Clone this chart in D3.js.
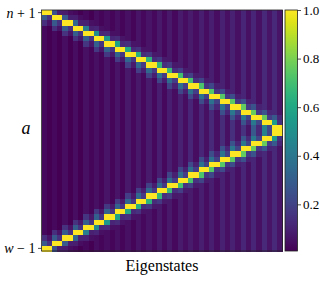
<!DOCTYPE html>
<html>
<head>
<meta charset="utf-8">
<script src="https://cdn.jsdelivr.net/npm/d3@7"></script>
<style>
  body { margin: 0; background: #fff; }
  svg text { font-family: "Liberation Serif", "Times New Roman", serif !important; fill: #000; }
</style>
</head>
<body>
<div id="heatmap"></div>
<script>
// eigenstates come in pairs; pair k peaks at site k (and its mirror site)
var nSites = 46;
var pairs = d3.range(23);
var yTickLabels = [["n", " + 1"], ["w", " \u2212 1"]];
var cbTicks = [0.2, 0.4, 0.6, 0.8, 1.0];

// values read per pair: even / odd column of the pair, by distance from the peak row
var peak    = [1,1,1,1,1,1,1,1,1,1,1,1,1,1,1,1,1,1,1,1,1,1,1];
var leadE   = [0,0.25,0.28,0.33,0.42,0.48,0.53,0.57,0.60,0.63,0.65,0.67,0.68,0.70,0.71,0.72,0.73,0.74,0.75,0.76,0.77,0.77,0.55];
var leadO   = [0,0.09,0.09,0.10,0.10,0.11,0.11,0.12,0.12,0.13,0.13,0.14,0.14,0.15,0.15,0.16,0.16,0.17,0.17,0.18,0.18,0.19,0.15];
var lead2E  = [0,0,0.08,0.09,0.10,0.11,0.12,0.13,0.14,0.15,0.16,0.17,0.18,0.19,0.20,0.21,0.22,0.23,0.24,0.25,0.26,0.27,0.28];
var lead2O  = [0,0,0.04,0.04,0.05,0.05,0.05,0.06,0.06,0.06,0.07,0.07,0.07,0.08,0.08,0.08,0.09,0.09,0.09,0.10,0.10,0.11,0.11];
var outerE  = [0,0,0,0.03,0.03,0.04,0.04,0.05,0.05,0.06,0.06,0.07,0.07,0.08,0.08,0.09,0.09,0.10,0.10,0.11,0.11,0.12,0.12];
var outerO  = [0,0,0,0.01,0.01,0.02,0.02,0.02,0.02,0.03,0.03,0.03,0.03,0.04,0.04,0.04,0.04,0.05,0.05,0.05,0.05,0.06,0.06];
var trailE  = [0.28,0.28,0.29,0.30,0.30,0.31,0.32,0.32,0.33,0.34,0.34,0.35,0.36,0.36,0.37,0.38,0.38,0.39,0.40,0.40,0.41,0.44,1];
var trailO  = [0.15,0.15,0.15,0.16,0.16,0.16,0.17,0.17,0.17,0.18,0.18,0.18,0.19,0.19,0.19,0.20,0.20,0.20,0.21,0.21,0.22,0.22,1];
var trail2E = [0.14,0.14,0.15,0.15,0.16,0.17,0.17,0.18,0.19,0.19,0.20,0.21,0.21,0.22,0.23,0.24,0.24,0.25,0.26,0.27,0.28,0.30,0.30];
var trail2O = [0.06,0.06,0.06,0.07,0.07,0.07,0.08,0.08,0.08,0.09,0.09,0.09,0.10,0.10,0.10,0.10,0.11,0.11,0.11,0.12,0.12,0.12,0.12];
var bgE     = [0.03,0.03,0.04,0.04,0.05,0.05,0.06,0.06,0.07,0.07,0.08,0.09,0.09,0.10,0.11,0.11,0.12,0.13,0.14,0.15,0.16,0.17,0.18];
var bgO     = [0.01,0.01,0.01,0.01,0.02,0.02,0.02,0.02,0.03,0.03,0.03,0.03,0.04,0.04,0.04,0.05,0.05,0.05,0.06,0.06,0.06,0.07,0.07];

var plot = {left: 41.5, top: 10, size: 241};
var cb = {left: 285, width: 12.5};

var svg = d3.select("#heatmap")
  .append("svg")
    .attr("width", 325)
    .attr("height", 281);

var x = d3.scaleBand()
  .domain(d3.range(nSites))
  .range([plot.left, plot.left + plot.size]);
var y = d3.scaleBand()
  .domain(d3.range(nSites))
  .range([plot.top, plot.top + plot.size]);
var color = d3.scaleSequential(d3.interpolateViridis).domain([0.008, 1]).clamp(true);

// look up a cell value from the pair tables
function cellValue(row, col) {
  var k = Math.floor(col / 2), even = col % 2 === 0;
  var rr = Math.min(row, nSites - 1 - row);
  var d = rr - k;
  if (d === 0) return peak[k];
  if (d === -1) return even ? leadE[k] : leadO[k];
  if (d === -2) return even ? lead2E[k] : lead2O[k];
  if (d < -2) return even ? outerE[k] : outerO[k];
  if (d === 1) return even ? trailE[k] : trailO[k];
  if (d === 2) return even ? trail2E[k] : trail2O[k];
  return even ? bgE[k] : bgO[k];
}

var cells = [];
d3.range(nSites).forEach(function(r) {
  d3.range(nSites).forEach(function(c) {
    cells.push({row: r, col: c, value: cellValue(r, c)});
  });
});

svg.append("g")
    .attr("shape-rendering", "crispEdges")
  .selectAll("rect")
  .data(cells)
  .join("rect")
    .attr("x", function(d) { return x(d.col); })
    .attr("y", function(d) { return y(d.row); })
    .attr("width", x.bandwidth() + 0.5)
    .attr("height", y.bandwidth() + 0.5)
    .attr("fill", function(d) { return color(d.value); });

// frame
svg.append("rect")
    .attr("x", plot.left).attr("y", plot.top)
    .attr("width", plot.size).attr("height", plot.size)
    .attr("fill", "none").attr("stroke", "#222").attr("stroke-width", 0.8);

// y ticks: first and last site
[0, nSites - 1].forEach(function(r, i) {
  var yy = y(r) + y.bandwidth() / 2;
  svg.append("line")
      .attr("x1", plot.left - 3.5).attr("x2", plot.left)
      .attr("y1", yy).attr("y2", yy)
      .attr("stroke", "#222").attr("stroke-width", 0.8);
  var t = svg.append("text")
      .attr("x", plot.left - 6).attr("y", yy)
      .attr("dy", "0.35em")
      .attr("text-anchor", "end")
      .style("font-size", "14px");
  t.append("tspan").style("font-style", "italic").text(yTickLabels[i][0]);
  t.append("tspan").text(yTickLabels[i][1]);
});

svg.append("text")
    .attr("x", 26).attr("y", 134)
    .attr("text-anchor", "middle")
    .style("font-size", "18px").style("font-style", "italic")
    .text("a");

svg.append("text")
    .attr("x", plot.left + plot.size / 2).attr("y", 271)
    .attr("text-anchor", "middle")
    .style("font-size", "16px")
    .text("Eigenstates");

// colorbar
var cy = d3.scaleLinear().domain([0.008, 1]).range([plot.top + plot.size, plot.top]);
var defs = svg.append("defs");
var grad = defs.append("linearGradient")
    .attr("id", "cbgrad")
    .attr("x1", 0).attr("y1", 1).attr("x2", 0).attr("y2", 0);
d3.range(0, 1.0001, 0.05).forEach(function(s) {
  grad.append("stop").attr("offset", s).attr("stop-color", d3.interpolateViridis(s));
});
svg.append("rect")
    .attr("x", cb.left).attr("y", plot.top)
    .attr("width", cb.width).attr("height", plot.size)
    .attr("fill", "url(#cbgrad)")
    .attr("stroke", "#222").attr("stroke-width", 0.8);

svg.append("g")
    .attr("transform", "translate(" + (cb.left + cb.width) + ",0)")
    .call(d3.axisRight(cy).tickValues(cbTicks).tickFormat(d3.format(".1f")).tickSize(3.5).tickPadding(2))
    .call(function(g) { g.select(".domain").remove(); g.attr("font-family", null); })
    .call(function(g) {
      g.selectAll("text").style("font-size", "13px");
      g.selectAll("line").attr("stroke", "#222").attr("stroke-width", 0.8);
    });
</script>
</body>
</html>
